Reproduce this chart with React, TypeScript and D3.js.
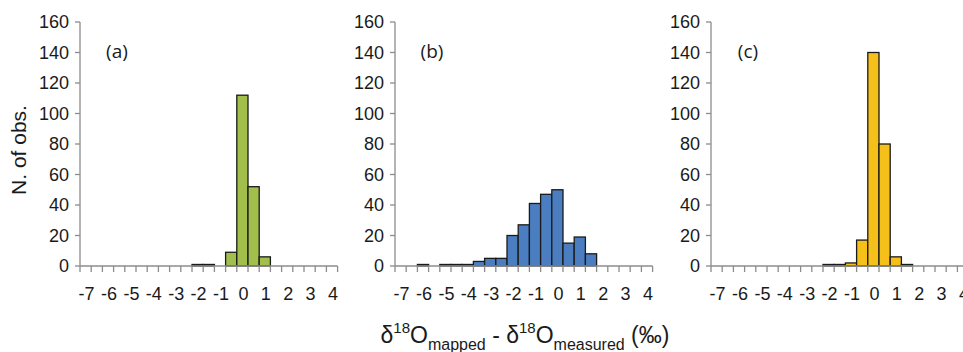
import React from 'react'
import * as d3 from 'd3'

// bins of 0.5 per mil, from -7 to 4
const bins = ['-7', '-6.5', '-6', '-5.5', '-5', '-4.5', '-4', '-3.5', '-3', '-2.5', '-2', '-1.5',
  '-1', '-0.5', '0', '0.5', '1', '1.5', '2', '2.5', '3', '3.5', '4']
const countsA = [0, 0, 0, 0, 0, 0, 0, 0, 0, 0, 1, 1, 0, 9, 112, 52, 6, 0, 0, 0, 0, 0, 0]
const countsB = [0, 0, 1, 0, 1, 1, 1, 3, 5, 5, 20, 27, 41, 47, 50, 15, 19, 8, 0, 0, 0, 0, 0]
const countsC = [0, 0, 0, 0, 0, 0, 0, 0, 0, 0, 1, 1, 2, 17, 140, 80, 6, 1, 0, 0, 0, 0, 0]
const yTicks = [0, 20, 40, 60, 80, 100, 120, 140, 160]
const panelNames = ['(a)', '(b)', '(c)']
const panelColors = ['#a3bf4b', '#4a7ec0', '#f6c01a']

const W = 963
const H = 352
const axisGray = '#8c8c8c'
const ink = '#1a1a1a'
const font = 'Liberation Sans, Arial, sans-serif'

const y = d3.scaleLinear().domain([0, 160]).range([266, 22])

function Panel({ left, counts, name, color }) {
  const x = d3.scaleBand().domain(bins).range([left, left + 257.6]).padding(0)
  const bw = x.bandwidth()
  const edges = bins.map((b) => x(b)).concat([x(bins[bins.length - 1]) + bw])
  return (
    <g>
      {/* bars */}
      {counts.map((c, i) =>
        c > 0 ? (
          <rect key={i} x={x(bins[i])} y={y(c)} width={bw} height={y(0) - y(c)}
            fill={color} stroke={ink} strokeWidth={1.3} />
        ) : null
      )}
      {/* y axis */}
      <line x1={left} x2={left} y1={y(0)} y2={y(160)} stroke={axisGray} strokeWidth={1.3} />
      {yTicks.map((t) => (
        <g key={t}>
          <line x1={left - 5} x2={left} y1={y(t)} y2={y(t)} stroke={axisGray} strokeWidth={1.3} />
          <text x={left - 11} y={y(t)} dy="0.36em" textAnchor="end" fontFamily={font} fontSize={18} fill={ink}>{t}</text>
        </g>
      ))}
      {/* x axis */}
      <line x1={left} x2={edges[edges.length - 1]} y1={y(0)} y2={y(0)} stroke={axisGray} strokeWidth={1.3} />
      {edges.map((e, i) => (
        <line key={i} x1={e} x2={e} y1={y(0)} y2={y(0) + 6} stroke={axisGray} strokeWidth={1.3} />
      ))}
      {bins.map((b) =>
        Number.isInteger(+b) ? (
          <text key={b} x={x(b) + bw / 2 + 1} y={300} textAnchor="middle" fontFamily={font} fontSize={18} fill={ink}>{b}</text>
        ) : null
      )}
      <text x={left + 37} y={58} textAnchor="middle" fontFamily="Open Sans, sans-serif" fontSize={19} fill={ink}>{name}</text>
    </g>
  )
}

export default function App() {
  const lefts = [80, 395, 711]
  const data = [countsA, countsB, countsC]
  return (
    <svg width={W} height={H} style={{ position: 'absolute', left: 0, top: 0, background: '#fff' }}>
      <rect width={W} height={H} fill="#fff" />
      {lefts.map((l, i) => (
        <Panel key={i} left={l} counts={data[i]} name={panelNames[i]} color={panelColors[i]} />
      ))}
      <text transform="translate(26,150) rotate(-90)" textAnchor="middle" fontFamily={font} fontSize={21} fill={ink}>N. of obs.</text>
      <text x={525} y={343} textAnchor="middle" fontFamily={font} fontSize={23} fill={ink}>
        <tspan>δ</tspan>
        <tspan fontSize={15} dy={-10}>18</tspan>
        <tspan dy={10}>O</tspan>
        <tspan fontSize={16} dy={7}>mapped</tspan>
        <tspan dy={-7}> - δ</tspan>
        <tspan fontSize={15} dy={-10}>18</tspan>
        <tspan dy={10}>O</tspan>
        <tspan fontSize={16} dy={7}>measured</tspan>
        <tspan dy={-7}> (‰)</tspan>
      </text>
    </svg>
  )
}
